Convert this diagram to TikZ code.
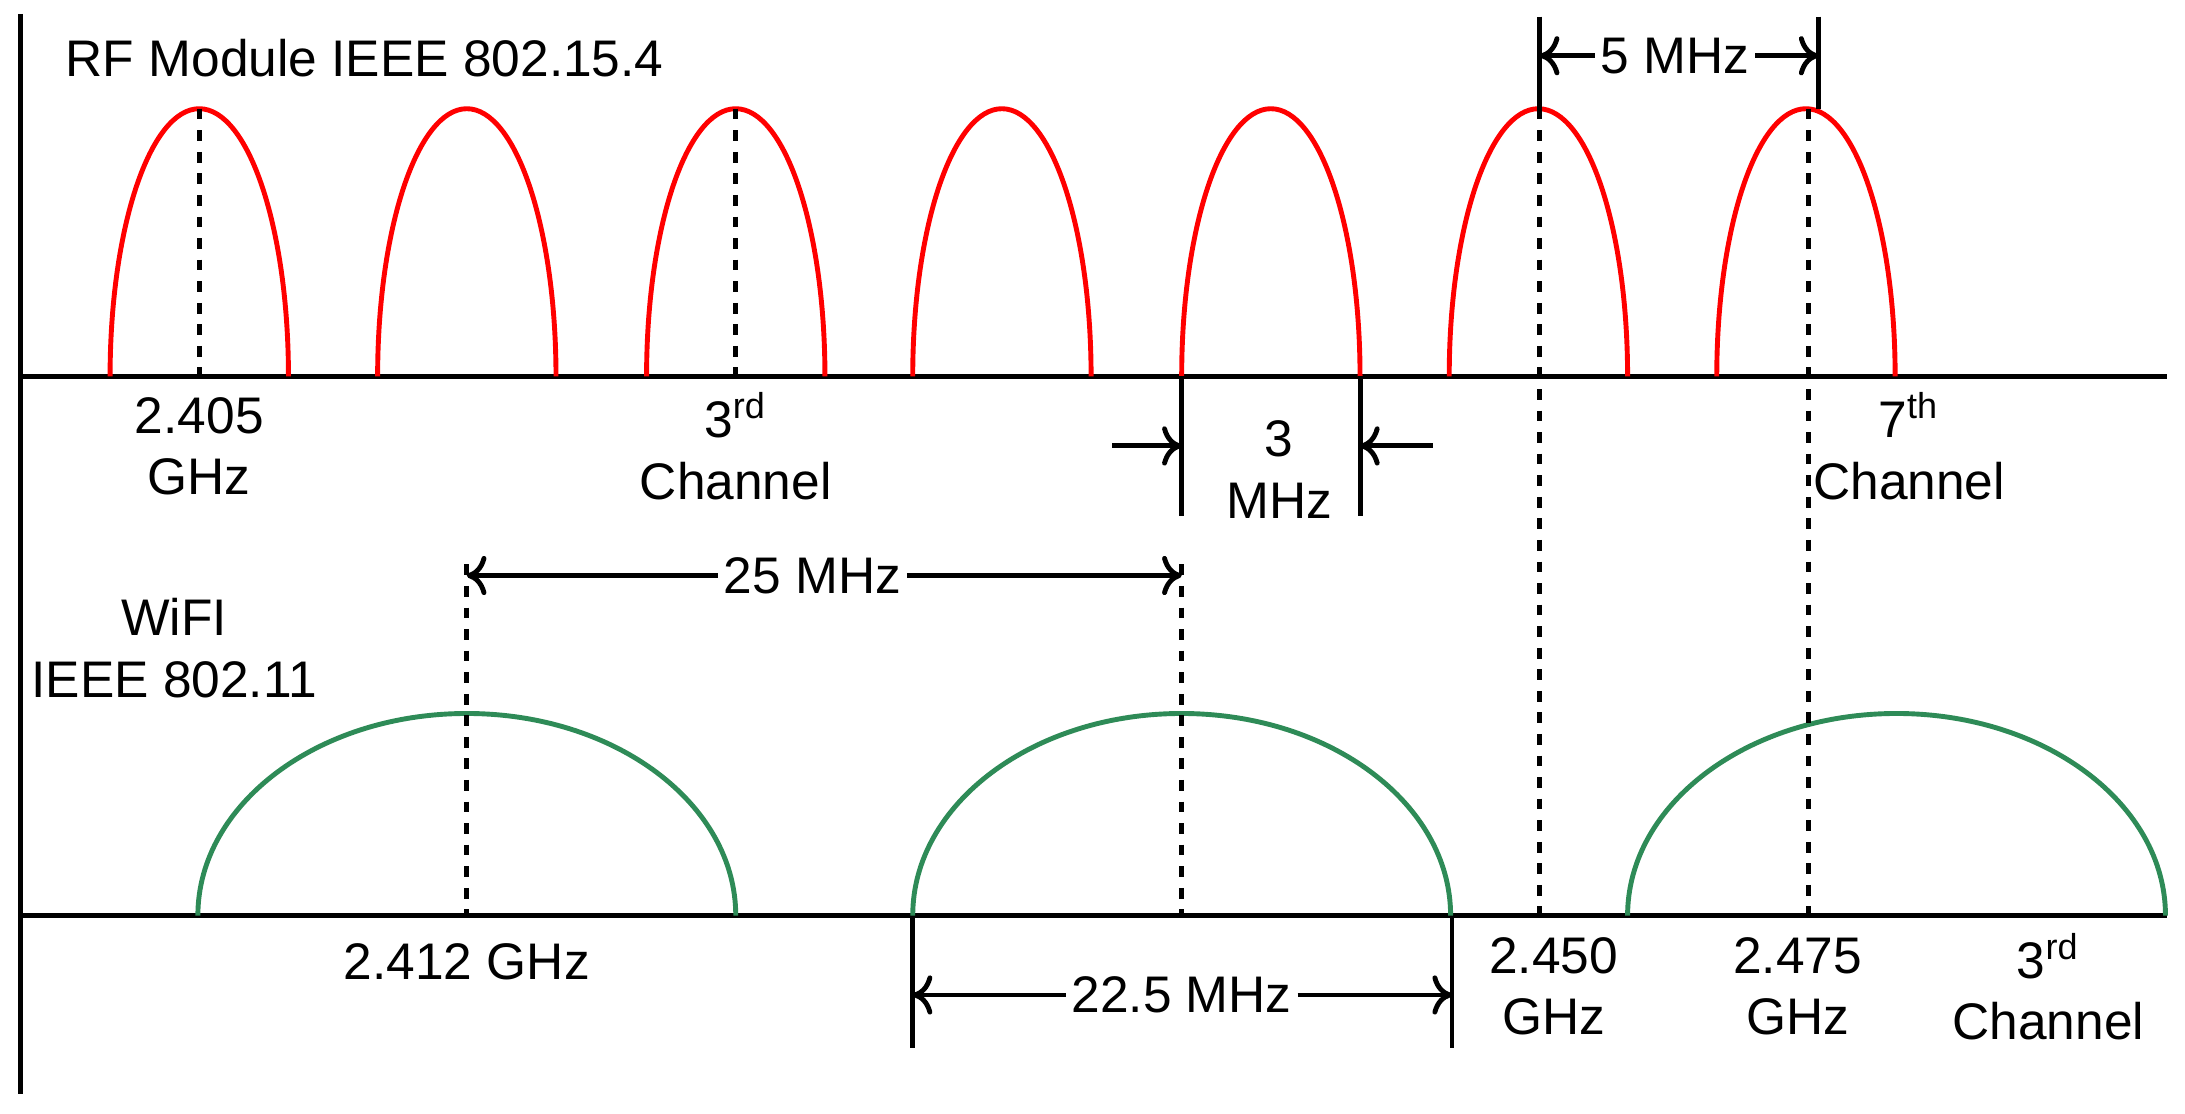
\documentclass[tikz,border=0pt]{standalone}
\usepackage{fontspec}
\setmainfont{Liberation Sans}
\usetikzlibrary{arrows.meta}
\begin{document}
\begin{tikzpicture}[x=0.01cm,y=-0.01cm,
  ax/.style={line width=1pt,black},
  redarch/.style={line width=1pt,red},
  grnarch/.style={line width=1pt,color={rgb,255:red,46;green,139;blue,87}},
  dots/.style={line width=1pt,dash pattern=on 2.2pt off 2.2pt},
  dim/.style={line width=1pt,-{To[length=4pt,width=8pt]}},
  lbl/.style={font=\fontsize{10.5}{12.5}\selectfont,align=center,inner sep=1pt}]
\useasboundingbox (0,0) rectangle (1568,799);
% axes
\coordinate (vt) at (15,10); \coordinate (vb) at (15,785);
\draw[ax] (vt) -- (vb);
\coordinate (t0) at (15,270); \coordinate (t1) at (1555,270);
\draw[ax] (t0) -- (t1);
\coordinate (b0) at (15,657); \coordinate (b1) at (1555,657);
\draw[ax] (b0) -- (b1);
% red arches
\foreach \c in {143,335,528,719,912,1104,1296}
  \draw[redarch] (\c+64,270) arc[start angle=0,end angle=180,x radius=64,y radius=-192];
% green arches
\foreach \c in {335,848,1361}
  \draw[grnarch] (\c+193,657) arc[start angle=0,end angle=180,x radius=193,y radius=-145];
% dotted
\coordinate (d1a) at (143,78); \coordinate (d1b) at (143,270); \draw[dots] (d1a)--(d1b);
\coordinate (d3a) at (528,78); \coordinate (d3b) at (528,270); \draw[dots] (d3a)--(d3b);
\coordinate (w1a) at (335,405); \coordinate (w1b) at (335,657); \draw[dots] (w1a)--(w1b);
\coordinate (w2a) at (848,405); \coordinate (w2b) at (848,657); \draw[dots] (w2a)--(w2b);
\coordinate (f1a) at (1105,78); \coordinate (f1b) at (1105,657); \draw[dots] (f1a)--(f1b);
\coordinate (f2a) at (1298,78); \coordinate (f2b) at (1298,657); \draw[dots] (f2a)--(f2b);
% 5 MHz
\coordinate (s1a) at (1105,12); \coordinate (s1b) at (1105,78); \draw[ax] (s1a)--(s1b);
\coordinate (s2a) at (1305,12); \coordinate (s2b) at (1305,78); \draw[ax] (s2a)--(s2b);
\node[lbl] (five) at (1202,40) {5 MHz};
\draw[dim] (five.west) -- (1105,40);
\draw[dim] (five.east) -- (1305,40);
% 3 MHz
\coordinate (m1a) at (848,270); \coordinate (m1b) at (848,370); \draw[ax] (m1a)--(m1b);
\coordinate (m2a) at (976,270); \coordinate (m2b) at (976,370); \draw[ax] (m2a)--(m2b);
\coordinate (ma) at (798,320); \coordinate (mb) at (1028,320);
\draw[dim] (ma) -- (848,320);
\draw[dim] (mb) -- (976,320);
\node[lbl] (three) at (918,337) {3\\MHz};
% 25 MHz
\node[lbl] (tf) at (583,413) {25 MHz};
\draw[dim] (tf.west) -- (335,413);
\draw[dim] (tf.east) -- (848,413);
% 22.5 MHz
\coordinate (n1a) at (655,657); \coordinate (n1b) at (655,752); \draw[ax] (n1a)--(n1b);
\coordinate (n2a) at (1042,657); \coordinate (n2b) at (1042,752); \draw[ax] (n2a)--(n2b);
\node[lbl] (tt) at (848,714) {22.5 MHz};
\draw[dim] (tt.west) -- (655,714);
\draw[dim] (tt.east) -- (1042,714);
% labels
\node[lbl,anchor=west] (rf) at (43,42) {RF Module IEEE 802.15.4};
\node[lbl] (l1) at (143,320) {2.405\\GHz};
\node[lbl] (l2) at (528,320) {3\textsuperscript{rd}\\Channel};
\node[lbl] (l3) at (1370,320) {7\textsuperscript{th}\\Channel};
\node[lbl] (wf) at (125,465) {WiFI\\IEEE 802.11};
\node[lbl] (l4) at (335,690) {2.412 GHz};
\node[lbl] (l5) at (1115,708) {2.450\\GHz};
\node[lbl] (l6) at (1290,708) {2.475\\GHz};
\node[lbl] (l7) at (1470,708) {3\textsuperscript{rd}\\Channel};
\end{tikzpicture}
\end{document}
